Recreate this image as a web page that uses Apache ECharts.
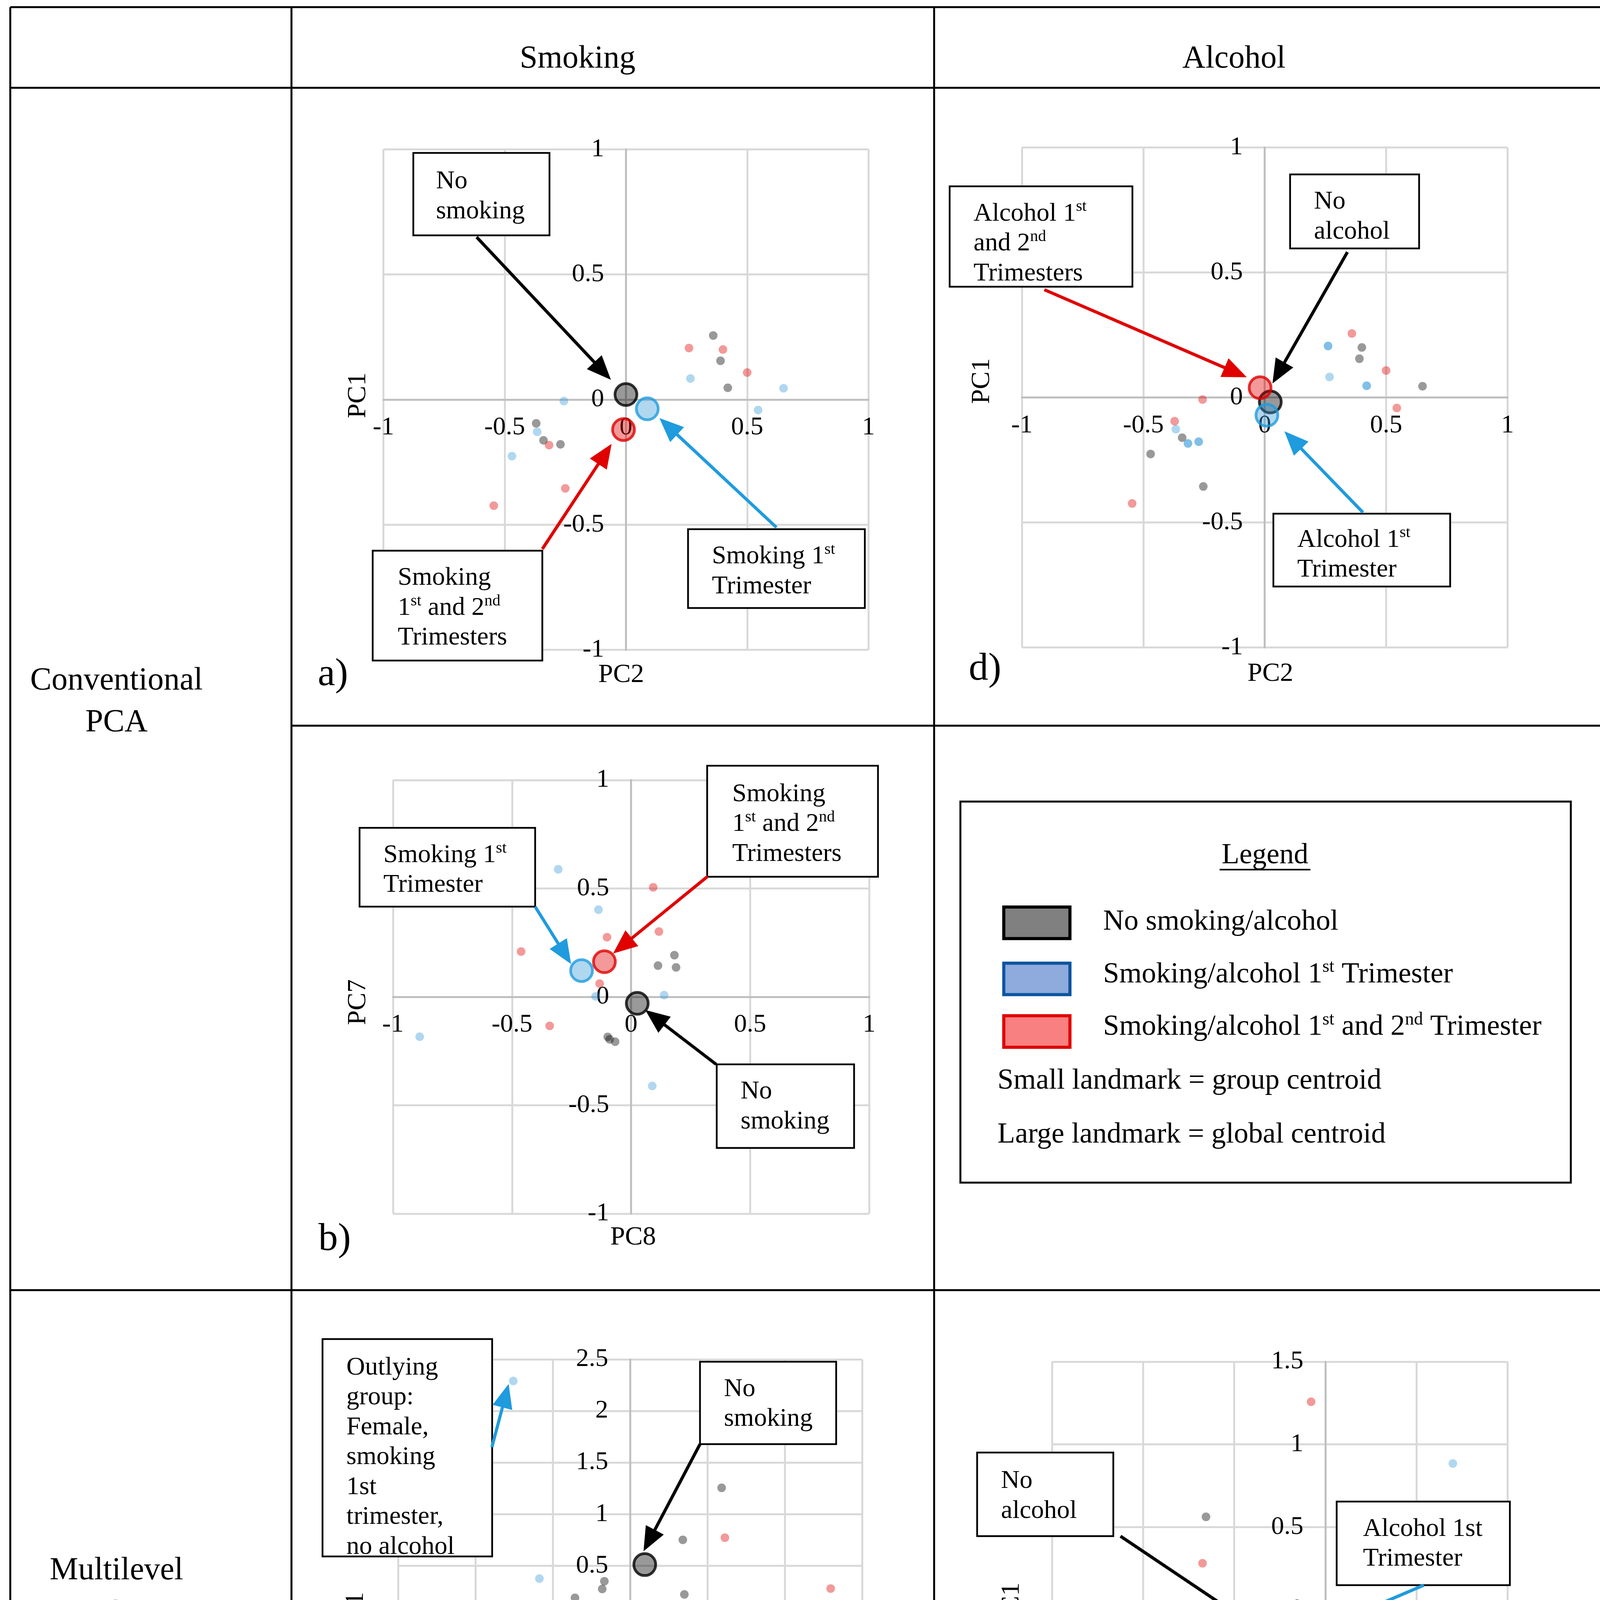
<!DOCTYPE html>
<html><head><meta charset="utf-8">
<script src="https://cdn.jsdelivr.net/npm/echarts@6/dist/echarts.min.js"></script>
<style>html,body{margin:0;padding:0;background:#fff}#c{width:4130px;height:4792px}</style>
</head><body><div id="c"></div>
<script>
// ---------------- DATA ----------------
// Panel a) Conventional PCA, Smoking, PC2 (x) vs PC1 (y)
const aNone  = [[0.36,0.256],[0.39,0.155],[0.42,0.047],[-0.37,-0.095],[-0.34,-0.163],[-0.27,-0.179]];
const aFirst = [[0.266,0.084],[0.65,0.045],[0.545,-0.042],[-0.256,-0.006],[-0.366,-0.129],[-0.47,-0.226]];
const aBoth  = [[0.26,0.206],[0.40,0.20],[0.50,0.108],[-0.317,-0.182],[-0.25,-0.355],[-0.545,-0.424]];
const aGlobalNone = [[0.0,0.02]], aGlobalFirst = [[0.088,-0.037]], aGlobalBoth = [[-0.01,-0.12]];
// Panel b) Conventional PCA, Smoking, PC8 (x) vs PC7 (y)
const bNone  = [[0.182,0.192],[0.113,0.144],[0.189,0.136],[-0.098,-0.185],[-0.09,-0.196],[-0.067,-0.207]];
const bFirst = [[-0.306,0.588],[-0.137,0.402],[-0.149,0.002],[0.139,0.008],[0.089,-0.411],[-0.888,-0.184]];
const bBoth  = [[0.093,0.505],[0.117,0.301],[-0.101,0.275],[-0.462,0.209],[-0.132,0.061],[-0.342,-0.134]];
const bGlobalNone = [[0.026,-0.03]], bGlobalFirst = [[-0.208,0.121]], bGlobalBoth = [[-0.112,0.162]];
// Panel c) Multilevel PCA, Smoking, PC2 (x) vs PC1 (y)
const cNone  = [[0.592,1.255],[0.341,0.751],[0.351,0.222],[-0.166,0.35],[-0.18,0.275],[-0.356,0.189]];
const cFirst = [[-0.755,2.291],[-0.586,0.375],[1.437,0.071],[1.233,-0.436],[0.874,-0.997],[-0.459,-1.205]];
const cBoth  = [[0.613,0.772],[1.297,0.279],[-1.196,-0.15],[-0.914,-0.397],[-0.473,-0.508],[-0.338,-0.257]];
const cGlobalNone = [[0.095,0.511]], cGlobalFirst = [[0.288,0.018]], cGlobalBoth = [[-0.169,-0.039]];
// Panel d) Conventional PCA, Alcohol, PC2 (x) vs PC1 (y)  (repeated points = overlapping landmarks)
const dNone  = [[0.40,0.20],[0.39,0.155],[0.65,0.045],[-0.34,-0.161],[-0.47,-0.226],[-0.253,-0.356]];
const dFirst = [[0.261,0.206],[0.261,0.206],[0.267,0.082],[0.42,0.047],[0.42,0.047],[-0.366,-0.127],[-0.316,-0.184],[-0.316,-0.184],[-0.272,-0.177],[-0.272,-0.177]];
const dBoth  = [[0.359,0.256],[0.50,0.108],[0.544,-0.042],[-0.256,-0.008],[-0.371,-0.095],[-0.546,-0.424]];
const dGlobalNone = [[0.023,-0.018]], dGlobalFirst = [[0.009,-0.071]], dGlobalBoth = [[-0.019,0.039]];
// Panel e) Multilevel PCA, Alcohol, PC2 (x) vs PC1 (y)
const eNone  = [[-0.655,0.562],[-0.236,-0.132],[-0.507,-0.332],[0.016,-0.386],[0.021,-0.437],[-0.243,-0.68],[-0.245,-0.341]];
const eFirst = [[0.70,0.885],[0.926,-0.196],[0.926,-0.196],[-0.516,-0.446],[-0.516,-0.446],[-1.046,-0.765],[-0.099,-0.118]];
const eBoth  = [[-0.078,1.258],[-0.674,0.281],[-0.151,-0.105],[-0.233,-0.448],[-0.221,-0.582],[0.082,-0.847]];
const eGlobalNone = [[-0.271,-0.234]], eGlobalFirst = [[-0.054,-0.16]], eGlobalBoth = [[-0.24,-0.339]];
// Axis ranges (tick labels every 0.5)
const rangeA = {x:[-1,1], y:[-1,1]};
const rangeB = {x:[-1,1], y:[-1,1]};
const rangeC = {x:[-1.5,1.5], y:[-1.5,2.5]};
const rangeD = {x:[-1,1], y:[-1,1]};
const rangeE = {x:[-1.5,1], y:[-1,1.5]};
const axisNames = {a:['PC2','PC1'], b:['PC8','PC7'], c:['PC2','PC1'], d:['PC2','PC1'], e:['PC2','PC1']};
const headers = ['Smoking','Alcohol'];
const rowLabels = [['Conventional','PCA'],['Multilevel','PCA']];
const legendItems = ['No smoking/alcohol','Smoking/alcohol 1^st Trimester','Smoking/alcohol 1^st and 2^nd Trimester'];
const legendNotes = ['Small landmark = group centroid','Large landmark = global centroid'];

// ---------------- LAYOUT ----------------
const S = 3.058;
const P = v => v * S;
const FONT = '"Liberation Serif", "Times New Roman", serif';
const COL = {
  none: 'rgba(0,0,0,0.5)', first: 'rgba(58,154,217,0.5)', both: 'rgba(224,0,0,0.5)',
  noneB: '#000000', firstB: '#1F9BDE', bothB: '#E00000'
};

const panels = [
  {id:'a', rect:[321,125,727,544], r:rangeA, none:aNone, first:aFirst, both:aBoth, g:[aGlobalNone,aGlobalFirst,aGlobalBoth],
   label:[266,565], xn:[520,565], yn:[300,331]},
  {id:'b', rect:[329,653,727.6,1016], r:rangeB, none:bNone, first:bFirst, both:bBoth, g:[bGlobalNone,bGlobalFirst,bGlobalBoth],
   label:[266.5,1038], xn:[530,1036], yn:[300,839]},
  {id:'c', rect:[333.2,1138,721.7,1483.5], r:rangeC, none:cNone, first:cFirst, both:cBoth, g:[cGlobalNone,cGlobalFirst,cGlobalBoth],
   label:[265.7,1517.5], xn:[528.5,1514.5], yn:[298,1352]},
  {id:'d', rect:[855.5,123.5,1262,542], r:rangeD, none:dNone, first:dFirst, both:dBoth, g:[dGlobalNone,dGlobalFirst,dGlobalBoth],
   label:[811,560.5], xn:[1063.5,564], yn:[822,319]},
  {id:'e', rect:[880.7,1140,1262,1486], r:rangeE, none:eNone, first:eFirst, both:eBoth, g:[eGlobalNone,eGlobalFirst,eGlobalBoth],
   label:[811,1513], xn:[1104,1511.5], yn:[847,1344]}
];

const grid = [], xAxis = [], yAxis = [], series = [];
panels.forEach((p, i) => {
  const [x1,y1,x2,y2] = p.rect;
  const W = P(x2-x1), H = P(y2-y1);
  grid.push({left:P(x1), top:P(y1), width:W, height:H, containLabel:false, outerBoundsMode:'none'});
  // axes cross at zero: shift each axis from its grid edge to the zero of the other axis
  const xOff = -(0 - p.r.y[0]) / (p.r.y[1] - p.r.y[0]) * H;
  const yOff = -(0 - p.r.x[0]) / (p.r.x[1] - p.r.x[0]) * W;
  const common = {
    gridIndex:i, type:'value', interval:0.5,
    axisLine:{show:true, onZero:false, lineStyle:{color:'#BFBFBF', width:5}},
    axisTick:{show:false},
    splitLine:{show:true, lineStyle:{color:'#D9D9D9', width:5}}
  };
  xAxis.push(Object.assign({}, common, {position:'bottom', offset:xOff, min:p.r.x[0], max:p.r.x[1],
    axisLabel:{fontFamily:FONT, fontSize:66, color:'#000', margin:39}}));
  yAxis.push(Object.assign({}, common, {position:'left', offset:yOff, min:p.r.y[0], max:p.r.y[1],
    axisLabel:{fontFamily:FONT, fontSize:66, color:'#000', margin:56}}));
  const dot = (data, c) => ({type:'scatter', xAxisIndex:i, yAxisIndex:i, data, symbol:'circle', symbolSize:22,
    itemStyle:{color:c}, silent:true, z:2});
  const big = (data, c, b) => ({type:'scatter', xAxisIndex:i, yAxisIndex:i, data, symbol:'circle', symbolSize:56,
    itemStyle:{color:c, borderColor:b, borderWidth:7}, silent:true, z:3});
  series.push(dot(p.none, COL.none), dot(p.first, COL.first), dot(p.both, COL.both));
  series.push(big(p.g[0], COL.none, COL.noneB), big(p.g[1], COL.first, COL.firstB), big(p.g[2], COL.both, COL.bothB));
});

const chart = echarts.init(document.getElementById('c'));
chart.setOption({animation:false, backgroundColor:'#fff', grid, xAxis, yAxis, series});

// ---------------- ANNOTATIONS ----------------
const g = [];
function line(x1,y1,x2,y2,w,c,z){ g.push({type:'line', shape:{x1:P(x1),y1:P(y1),x2:P(x2),y2:P(y2)}, style:{stroke:c||'#000', lineWidth:w||5}, z:z||100}); }
function richText(lines){
  return lines.map(l => l.split(/(\^[a-z]+)/).filter(Boolean)
    .map(s => s[0] === '^' ? '{s|' + s.slice(1) + '}' : '{t|' + s + '}').join('')).join('\n');
}
function richStyle(fs, lh, sfs){
  return {t:{fontSize:fs, lineHeight:lh, fontFamily:FONT, fill:'#000'},
          s:{fontSize:sfs, lineHeight:sfs, fontFamily:FONT, fill:'#000', verticalAlign:'top'}};
}
function text(lines, x, yc, fs, lh, align){
  g.push({type:'text', x:P(x), y:P(yc) - lh/2, z:102,
    style:{text:richText(lines), rich:richStyle(fs, lh, Math.round(fs*0.62)), fontFamily:FONT, fontSize:fs,
           fill:'#000', align:align||'left', verticalAlign:'top'}});
}
function box(r, lines, t){
  g.push({type:'rect', shape:{x:P(r[0]), y:P(r[1]), width:P(r[2]-r[0]), height:P(r[3]-r[1])},
          style:{fill:'#fff', stroke:'#000', lineWidth:4.5}, z:101});
  text(lines, t[0], t[1], 66, 76.5);
}
function arrow(tail, tipData, gi, color){
  const tip = chart.convertToPixel({gridIndex:gi}, tipData);
  const tx = P(tail[0]), ty = P(tail[1]), px = tip[0], py = tip[1];
  const dx = px-tx, dy = py-ty, len = Math.hypot(dx,dy), ux = dx/len, uy = dy/len;
  const L = 62, W = 26, bx = px-ux*L, by = py-uy*L;
  g.push({type:'line', shape:{x1:tx,y1:ty,x2:bx+ux*6,y2:by+uy*6}, style:{stroke:color, lineWidth:8}, z:103});
  g.push({type:'polygon', shape:{points:[[px,py],[bx-uy*W,by+ux*W],[bx+uy*W,by-ux*W]]}, style:{fill:color}, z:103});
}

// table
line(8.6,6,1343,6); line(8.6,73.5,1343,73.5); line(244,607.5,1343,607.5); line(8.6,1080,1343,1080); line(8.6,1563.5,1343,1563.5);
line(8.6,6,8.6,1563.5); line(244,6,244,1563.5); line(782,6,782,1563.5); line(1343,6,1343,1563.5);
text([headers[0]], 483.5, 49.5, 82, 96, 'center');
text([headers[1]], 1033, 49.5, 82, 96, 'center');
text([rowLabels[0][0]], 97.5, 570, 82, 96, 'center'); text([rowLabels[0][1]], 97.5, 605, 82, 96, 'center');
text([rowLabels[1][0]], 97.5, 1315, 82, 96, 'center'); text([rowLabels[1][1]], 97.5, 1350, 82, 96, 'center');

// panel labels and axis names
panels.forEach(p => {
  text([p.id + ')'], p.label[0], p.label[1], 100, 110);
  text([axisNames[p.id][0]], p.xn[0], p.xn[1], 68, 78, 'center');
  g.push({type:'text', x:P(p.yn[0]), y:P(p.yn[1]), rotation:Math.PI/2, z:102,
    style:{text:axisNames[p.id][1], fontFamily:FONT, fontSize:68, fill:'#000', align:'center', verticalAlign:'middle'}});
});

// panel a
box([346,128,460,197], ['No','smoking'], [365,152]);
box([312,461,454,553], ['Smoking','1^st and 2^nd','Trimesters'], [333,484]);
box([576,443,724,509], ['Smoking 1^st','Trimester'], [596,466]);
arrow([399,198.5], [-0.062,0.079], 0, '#000');
arrow([454,459.6], [-0.059,-0.177], 0, '#E00000');
arrow([650,441.5], [0.138,-0.074], 0, '#1F9BDE');
// panel b
box([301,693,448,759], ['Smoking 1^st','Trimester'], [321,716]);
box([592,641,735,734], ['Smoking','1^st and 2^nd','Trimesters'], [613,665]);
box([600,891,715,961], ['No','smoking'], [620,914]);
arrow([448,759], [-0.252,0.151], 1, '#1F9BDE');
arrow([592.4,733.7], [-0.0755,0.2], 1, '#E00000');
arrow([599.5,891], [0.06,-0.061], 1, '#000');
// panel c
box([270,1121,412,1303], ['Outlying','group:','Female,','smoking','1st','trimester,','no alcohol'], [290,1145]);
box([586,1140,700,1209], ['No','smoking'], [606,1163]);
box([302,1437,445,1529], ['Smoking','1^st and 2^nd','Trimesters'], [322,1461]);
box([585,1464,733,1530], ['Smoking 1^st','Trimester'], [605,1487]);
arrow([411.8,1211.5], [-0.785,2.262], 2, '#1F9BDE');
arrow([586,1209], [0.087,0.64], 2, '#000');
arrow([444.7,1437], [-0.238,-0.097], 2, '#E00000');
arrow([601,1463], [0.283,-0.075], 2, '#1F9BDE');
// panel d
box([795,156,948,240], ['Alcohol 1^st','and 2^nd','Trimesters'], [815,179]);
box([1080,146,1188,208], ['No','alcohol'], [1100,169]);
box([1066,430,1214,491], ['Alcohol 1^st','Trimester'], [1086,452]);
arrow([874.3,242.5], [-0.074,0.081], 3, '#E00000');
arrow([1128,211], [0.032,0.056], 3, '#000');
arrow([1141,429], [0.081,-0.135], 3, '#1F9BDE');
// panel e
box([818,1216,932,1286], ['No','alcohol'], [838,1240]);
box([1119,1257,1264,1327], ['Alcohol 1st','Trimester'], [1141,1280]);
box([861,1479,1044,1548], ['Alcohol 1st and','2nd Trimesters'], [881,1501]);
arrow([938,1286], [-0.306,-0.161], 4, '#000');
arrow([1192,1327], [-0.021,-0.116], 4, '#1F9BDE');
arrow([953,1478], [-0.306,-0.368], 4, '#E00000');

// legend
g.push({type:'rect', shape:{x:P(804), y:P(671), width:P(1315-804), height:P(990-671)}, style:{fill:'#fff', stroke:'#000', lineWidth:5}, z:100});
text(['Legend'], 1059, 716.5, 74, 84, 'center');
line(1021,728,1097,728,4,'#000',102);
const sw = [['#808080','#000000'],['#8FAADC','#0B55A0'],['#F88080','#E00000']];
const swY = [758,805,849];
sw.forEach((c, k) => {
  g.push({type:'rect', shape:{x:P(839)+4, y:P(swY[k])+4, width:P(58)-8, height:P(29)-8}, style:{fill:c[0], stroke:c[1], lineWidth:8}, z:101});
});
text([legendItems[0]], 923.5, 772, 74, 84);
text([legendItems[1]], 923.5, 816, 74, 84);
text([legendItems[2]], 923.5, 860, 74, 84);
text([legendNotes[0]], 835, 905, 74, 84);
text([legendNotes[1]], 835, 950, 74, 84);

chart.setOption({graphic:{elements:g}});
</script>
</body></html>
